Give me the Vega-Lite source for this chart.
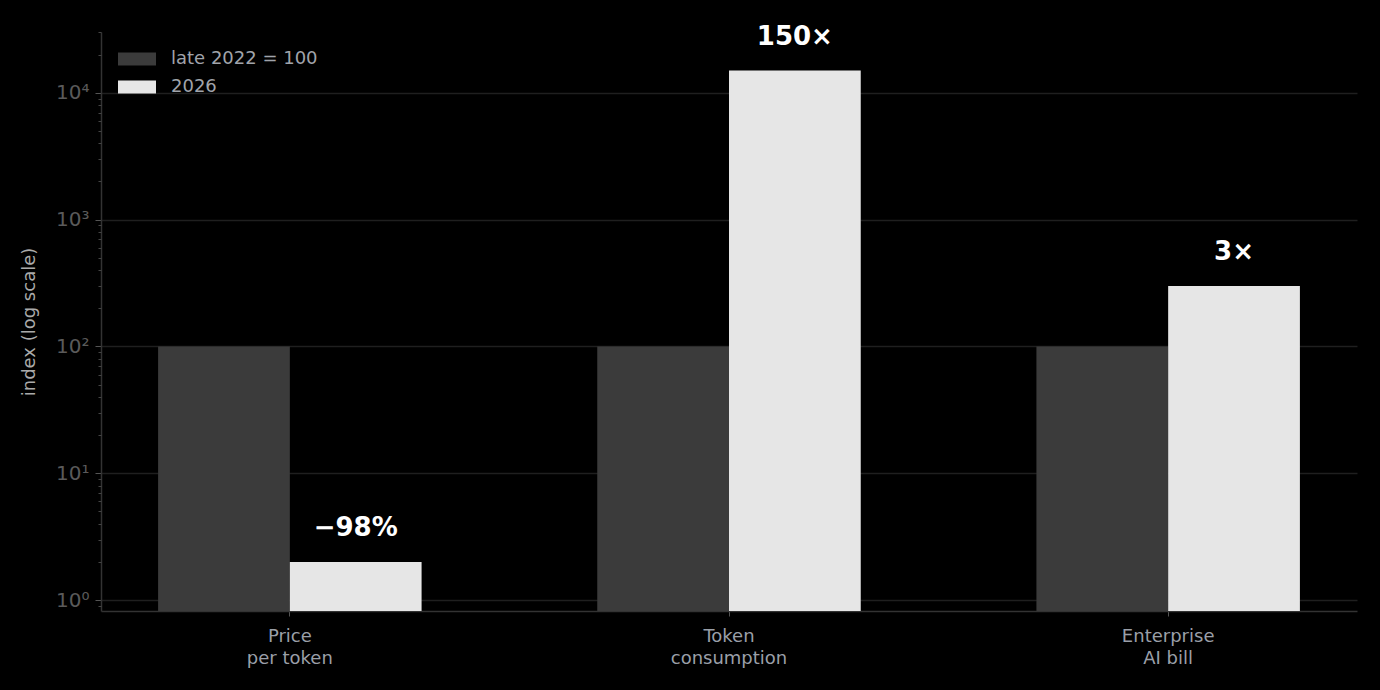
{
  "$schema": "https://vega.github.io/schema/vega-lite/v6.json",
  "width": 1256,
  "height": 579,
  "autosize": {"type": "none"},
  "padding": {"left": 101, "top": 32, "right": 23, "bottom": 79},
  "background": "#000000",
  "config": {
    "font": "DejaVu Sans",
    "view": {"stroke": null},
    "axis": {"labelFont": "DejaVu Sans", "titleFont": "DejaVu Sans"},
    "legend": {"labelFont": "DejaVu Sans"}
  },
  "data": {
    "values": [
      {"metric": "Price\nper token", "series": "late 2022 = 100", "index": 100, "note": ""},
      {"metric": "Price\nper token", "series": "2026", "index": 2, "note": "−98%"},
      {"metric": "Token\nconsumption", "series": "late 2022 = 100", "index": 100, "note": ""},
      {"metric": "Token\nconsumption", "series": "2026", "index": 15000, "note": "150×"},
      {"metric": "Enterprise\nAI bill", "series": "late 2022 = 100", "index": 100, "note": ""},
      {"metric": "Enterprise\nAI bill", "series": "2026", "index": 300, "note": "3×"}
    ]
  },
  "encoding": {
    "x": {
      "field": "metric",
      "type": "nominal",
      "sort": null,
      "scale": {"paddingInner": 0.4, "paddingOuter": 0.13},
      "axis": {
        "title": null,
        "labelAngle": 0,
        "labelExpr": "split(datum.label, '\\n')",
        "labelColor": "#9a9fa8",
        "labelFontSize": 18,
        "labelLineHeight": 22,
        "labelPadding": 11,
        "tickColor": "#555555",
        "tickSize": 5,
        "domainColor": "#333333",
        "domainWidth": 1.5,
        "grid": false
      }
    },
    "xOffset": {
      "field": "series",
      "type": "nominal",
      "sort": ["late 2022 = 100", "2026"],
      "scale": {"paddingInner": 0, "paddingOuter": 0}
    },
    "y": {
      "field": "index",
      "type": "quantitative",
      "scale": {"type": "log", "domain": [0.82, 30200], "nice": false}
    }
  },
  "layer": [
    {
      "mark": {"type": "bar"},
      "encoding": {
        "y2": {"datum": 0.82},
        "color": {
          "field": "series",
          "type": "nominal",
          "sort": ["late 2022 = 100", "2026"],
          "scale": {"domain": ["late 2022 = 100", "2026"], "range": ["#3b3b3b", "#e6e6e6"]},
          "legend": {
            "title": null,
            "orient": "none",
            "legendX": 17,
            "legendY": 18,
            "symbolType": "M-1,-0.34L1,-0.34L1,0.34L-1,0.34Z",
            "symbolSize": 1444,
            "symbolStrokeWidth": 0,
            "labelColor": "#a0a4ab",
            "labelFontSize": 18,
            "labelOffset": 15,
            "clipHeight": 18,
            "rowPadding": 10
          }
        },
        "y": {
          "field": "index",
          "type": "quantitative",
          "axis": {
            "title": "index (log scale)",
            "titleColor": "#aaaaaa",
            "titleFontSize": 18,
            "titleFontWeight": "normal",
            "titlePadding": 17,
            "values": [1, 10, 100, 1000, 10000],
            "labelExpr": "datum.value == 1 ? '10⁰' : datum.value == 10 ? '10¹' : datum.value == 100 ? '10²' : datum.value == 1000 ? '10³' : '10⁴'",
            "labelColor": "#5a5a5a",
            "labelFontSize": 20,
            "labelPadding": 6,
            "tickColor": "#555555",
            "tickSize": 6,
            "domainColor": "#333333",
            "domainWidth": 1.5,
            "grid": true,
            "gridColor": "#1f1f1f",
            "gridWidth": 1.5
          }
        }
      }
    },
    {
      "transform": [{"filter": "datum.note != ''"}],
      "mark": {"type": "text", "dy": -34, "baseline": "middle", "align": "center", "fontSize": 26, "fontWeight": "bold", "color": "#ffffff"},
      "encoding": {
        "text": {"field": "note"},
        "y": {
          "field": "index",
          "type": "quantitative",
          "axis": {
            "orient": "left",
            "title": null,
            "labels": false,
            "domain": false,
            "grid": false,
            "tickColor": "#444444",
            "tickSize": 3,
            "values": [0.9, 2, 3, 4, 5, 6, 7, 8, 9, 20, 30, 40, 50, 60, 70, 80, 90, 200, 300, 400, 500, 600, 700, 800, 900, 2000, 3000, 4000, 5000, 6000, 7000, 8000, 9000, 20000, 30000]
          }
        }
      }
    }
  ],
  "resolve": {"axis": {"y": "independent"}}
}
